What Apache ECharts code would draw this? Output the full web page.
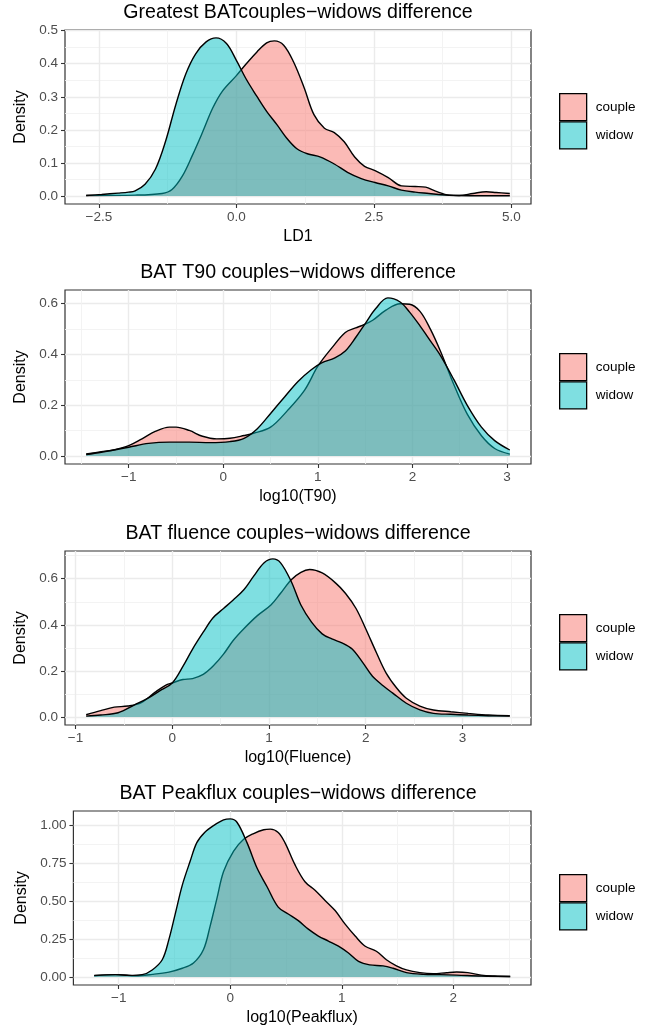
<!DOCTYPE html>
<html>
<head>
<meta charset="utf-8">
<script src="https://cdn.jsdelivr.net/npm/echarts@6/dist/echarts.min.js"></script>
<style>
html,body{margin:0;padding:0;background:#fff;}
#chart{width:663px;height:1027px;}
</style>
</head>
<body>
<div id="chart"></div>
<script>
// ---------- Panel titles & axis names ----------
const titles = [
  'Greatest BATcouples\u2212widows difference',
  'BAT T90 couples\u2212widows difference',
  'BAT fluence couples\u2212widows difference',
  'BAT Peakflux couples\u2212widows difference'
];
const xNames = ['LD1', 'log10(T90)', 'log10(Fluence)', 'log10(Peakflux)'];
const yName = 'Density';
const groups = ['couple', 'widow'];

// ---------- Tick values / labels ----------
const p1XTicks = [-2.5, 0, 2.5, 5];
const p1XLabels = ['\u22122.5', '0.0', '2.5', '5.0'];
const p1XMinor = [-1.25, 1.25, 3.75];
const p1YTicks = [0, 0.1, 0.2, 0.3, 0.4, 0.5];
const p1YLabels = ['0.0', '0.1', '0.2', '0.3', '0.4', '0.5'];
const p1YMinor = [0.05, 0.15, 0.25, 0.35, 0.45];

const p2XTicks = [-1, 0, 1, 2, 3];
const p2XLabels = ['\u22121', '0', '1', '2', '3'];
const p2XMinor = [-1.5, -0.5, 0.5, 1.5, 2.5];
const p2YTicks = [0, 0.2, 0.4, 0.6];
const p2YLabels = ['0.0', '0.2', '0.4', '0.6'];
const p2YMinor = [0.1, 0.3, 0.5];

const p3XTicks = [-1, 0, 1, 2, 3];
const p3XLabels = ['\u22121', '0', '1', '2', '3'];
const p3XMinor = [-0.5, 0.5, 1.5, 2.5, 3.5];
const p3YTicks = [0, 0.2, 0.4, 0.6];
const p3YLabels = ['0.0', '0.2', '0.4', '0.6'];
const p3YMinor = [0.1, 0.3, 0.5, 0.7];

const p4XTicks = [-1, 0, 1, 2];
const p4XLabels = ['\u22121', '0', '1', '2'];
const p4XMinor = [-0.5, 0.5, 1.5, 2.5];
const p4YTicks = [0, 0.25, 0.5, 0.75, 1.0];
const p4YLabels = ['0.00', '0.25', '0.50', '0.75', '1.00'];
const p4YMinor = [0.125, 0.375, 0.625, 0.875];

// ---------- Density curves ----------
// Panel 1: LD1
const p1CoupleX = [-2.73,-1.84,-1.35,-1.17,-0.98,-0.80,-0.61,-0.43,-0.25,0,0.18,0.37,0.55,0.69,0.86,1.04,1.23,1.41,1.60,1.78,1.96,2.15,2.33,2.52,2.76,3.0,3.25,3.44,3.62,3.87,4.05,4.3,4.54,4.72,4.97];
const p1CoupleY = [0.002,0.003,0.008,0.02,0.061,0.123,0.195,0.266,0.318,0.364,0.40,0.435,0.463,0.469,0.456,0.405,0.328,0.246,0.205,0.192,0.164,0.118,0.09,0.077,0.056,0.031,0.029,0.027,0.015,0.003,0.002,0.008,0.013,0.011,0.008];
const p1WidowX = [-2.73,-2.45,-2.15,-1.96,-1.84,-1.66,-1.47,-1.29,-1.10,-0.92,-0.74,-0.55,-0.37,-0.18,0,0.18,0.37,0.55,0.74,0.92,1.10,1.29,1.53,1.78,2.02,2.27,2.52,2.76,3.0,3.25,3.5,3.74,3.99,4.5,4.97];
const p1WidowY = [0.002,0.005,0.009,0.012,0.016,0.036,0.082,0.164,0.277,0.369,0.43,0.466,0.478,0.461,0.41,0.353,0.302,0.256,0.215,0.174,0.143,0.128,0.118,0.097,0.072,0.053,0.041,0.031,0.018,0.012,0.008,0.004,0.002,0.001,0.001];

// Panel 2: log10(T90)
const p2CoupleX = [-1.45,-1.29,-1.15,-1.0,-0.86,-0.72,-0.57,-0.50,-0.36,-0.22,-0.07,0.07,0.22,0.32,0.50,0.68,0.86,1.0,1.15,1.29,1.40,1.47,1.58,1.72,1.87,1.97,2.08,2.19,2.30,2.44,2.58,2.73,2.87,3.03];
const p2CoupleY = [0.008,0.017,0.025,0.041,0.068,0.097,0.114,0.114,0.101,0.078,0.068,0.07,0.081,0.09,0.114,0.18,0.26,0.354,0.427,0.487,0.505,0.515,0.535,0.575,0.60,0.598,0.57,0.50,0.41,0.28,0.165,0.08,0.03,0.008];
const p2WidowX = [-1.45,-1.29,-1.0,-0.79,-0.57,-0.36,-0.14,0.07,0.22,0.36,0.50,0.65,0.79,0.93,1.04,1.18,1.29,1.40,1.51,1.61,1.74,1.87,1.97,2.08,2.19,2.30,2.44,2.58,2.73,2.87,3.03];
const p2WidowY = [0.006,0.015,0.035,0.05,0.055,0.055,0.053,0.057,0.07,0.108,0.168,0.234,0.294,0.34,0.367,0.387,0.414,0.467,0.527,0.58,0.623,0.607,0.567,0.513,0.454,0.394,0.30,0.20,0.114,0.061,0.024];

// Panel 3: log10(Fluence)
const p3CoupleX = [-0.89,-0.74,-0.60,-0.46,-0.32,-0.18,-0.07,0,0.11,0.21,0.32,0.42,0.53,0.63,0.74,0.88,1.02,1.12,1.23,1.33,1.42,1.55,1.69,1.79,1.90,2.0,2.11,2.21,2.32,2.42,2.56,2.70,2.88,3.06,3.27,3.49];
const p3CoupleY = [0.01,0.028,0.043,0.048,0.063,0.107,0.138,0.148,0.163,0.167,0.185,0.22,0.273,0.332,0.383,0.44,0.486,0.537,0.596,0.628,0.64,0.625,0.581,0.537,0.471,0.383,0.28,0.192,0.126,0.082,0.048,0.031,0.023,0.016,0.009,0.006];
const p3WidowX = [-0.89,-0.74,-0.56,-0.39,-0.25,-0.11,0,0.11,0.21,0.32,0.42,0.53,0.63,0.74,0.84,0.95,1.04,1.12,1.23,1.33,1.44,1.55,1.65,1.76,1.86,1.97,2.07,2.18,2.28,2.42,2.56,2.70,2.88,3.06,3.27,3.49];
const p3WidowY = [0.004,0.009,0.019,0.053,0.082,0.119,0.148,0.22,0.295,0.368,0.43,0.471,0.508,0.552,0.61,0.669,0.686,0.669,0.588,0.486,0.412,0.361,0.339,0.321,0.295,0.236,0.177,0.136,0.104,0.06,0.031,0.016,0.012,0.009,0.006,0.004];

// Panel 4: log10(Peakflux)
const p4CoupleX = [-1.22,-1.0,-0.85,-0.70,-0.55,-0.43,-0.33,-0.24,-0.18,-0.12,-0.06,0.03,0.12,0.21,0.30,0.36,0.43,0.49,0.58,0.67,0.76,0.85,0.94,1.03,1.12,1.21,1.31,1.40,1.49,1.58,1.70,1.82,1.94,2.03,2.13,2.25,2.37,2.51];
const p4CoupleY = [0.009,0.016,0.009,0.018,0.033,0.058,0.092,0.181,0.337,0.516,0.694,0.828,0.906,0.944,0.969,0.973,0.951,0.884,0.739,0.627,0.571,0.504,0.4375,0.348,0.27,0.203,0.17,0.114,0.074,0.047,0.029,0.022,0.029,0.033,0.029,0.013,0.007,0.004];
const p4WidowX = [-1.22,-1.03,-0.91,-0.79,-0.70,-0.61,-0.55,-0.49,-0.43,-0.36,-0.30,-0.23,-0.15,-0.06,0,0.06,0.15,0.24,0.33,0.43,0.52,0.61,0.70,0.79,0.88,0.97,1.06,1.15,1.25,1.37,1.46,1.58,1.73,1.88,2.03,2.25,2.51];
const p4WidowY = [0.011,0.016,0.011,0.016,0.047,0.114,0.248,0.426,0.605,0.761,0.884,0.951,0.996,1.033,1.04,1.018,0.884,0.717,0.594,0.46,0.415,0.371,0.315,0.27,0.237,0.203,0.158,0.103,0.08,0.074,0.058,0.029,0.018,0.016,0.013,0.007,0.004];

// ---------- Build ----------
const FONT = "'Liberation Sans', Arial, Helvetica, sans-serif";
const FILL = { couple: 'rgba(248,118,109,0.5)', widow: 'rgba(0,191,196,0.5)' };

const panels = [
  { xT: p1XTicks, xL: p1XLabels, xM: p1XMinor, yT: p1YTicks, yL: p1YLabels, yM: p1YMinor,
    c: [p1CoupleX, p1CoupleY], w: [p1WidowX, p1WidowY] },
  { xT: p2XTicks, xL: p2XLabels, xM: p2XMinor, yT: p2YTicks, yL: p2YLabels, yM: p2YMinor,
    c: [p2CoupleX, p2CoupleY], w: [p2WidowX, p2WidowY] },
  { xT: p3XTicks, xL: p3XLabels, xM: p3XMinor, yT: p3YTicks, yL: p3YLabels, yM: p3YMinor,
    c: [p3CoupleX, p3CoupleY], w: [p3WidowX, p3WidowY] },
  { xT: p4XTicks, xL: p4XLabels, xM: p4XMinor, yT: p4YTicks, yL: p4YLabels, yM: p4YMinor,
    c: [p4CoupleX, p4CoupleY], w: [p4WidowX, p4WidowY] }
];

// layout (pixels)
const panelTop = [30, 290, 551, 811];
const panelLeft = [65, 65, 65, 73.4];
const panelRight = 531;
const panelH = 174;
const titleCenterX = 298;

function zip(xs, ys) { return xs.map((x, i) => [x, ys[i]]); }
function lookup(ticks, labels) {
  return function (v) {
    const i = ticks.findIndex(t => Math.abs(t - v) < 1e-9);
    return i >= 0 ? labels[i] : '';
  };
}

const option = {
  animation: false,
  backgroundColor: '#ffffff',
  textStyle: { fontFamily: FONT },
  title: [], grid: [], xAxis: [], yAxis: [], series: [], legend: []
};

panels.forEach((p, i) => {
  const allX = p.c[0].concat(p.w[0]);
  const allY = p.c[1].concat(p.w[1]);
  const xmin = Math.min(...allX), xmax = Math.max(...allX);
  const xpad = 0.05 * (xmax - xmin);
  const ymax = Math.max(...allY);
  const ypad = 0.05 * ymax;
  const xr = [xmin - xpad, xmax + xpad];
  const yr = [-ypad, ymax + ypad];

  option.title.push({
    text: titles[i],
    left: titleCenterX,
    top: panelTop[i] - 27,
    textAlign: 'center',
    padding: 0,
    textStyle: { fontFamily: FONT, fontSize: 19.6, fontWeight: 'normal', color: '#000', lineHeight: 20 }
  });

  option.grid.push({
    left: panelLeft[i], top: panelTop[i],
    width: panelRight - panelLeft[i], height: panelH,
    show: true, backgroundColor: '#fff', borderColor: '#333333', borderWidth: 1.2,
    containLabel: false, outerBoundsMode: 'none'
  });

  // minor grid axes
  option.xAxis.push({
    type: 'value', gridIndex: i, min: xr[0], max: xr[1], position: 'bottom',
    axisLine: { show: false, onZero: false }, axisLabel: { show: false },
    axisTick: { show: false, customValues: p.xM },
    splitLine: { show: true, lineStyle: { color: '#F2F2F2', width: 0.9 } }
  });
  option.yAxis.push({
    type: 'value', gridIndex: i, min: yr[0], max: yr[1], position: 'left',
    axisLine: { show: false, onZero: false }, axisLabel: { show: false },
    axisTick: { show: false, customValues: p.yM },
    splitLine: { show: true, lineStyle: { color: '#F2F2F2', width: 0.9 } }
  });
  // major axes
  option.xAxis.push({
    type: 'value', gridIndex: i, min: xr[0], max: xr[1], position: 'bottom',
    name: xNames[i], nameLocation: 'middle', nameGap: 25,
    nameTextStyle: { fontFamily: FONT, fontSize: 16, color: '#000' },
    axisLine: { show: false, onZero: false },
    axisTick: { show: true, length: 4, lineStyle: { color: '#333333', width: 1.1 }, customValues: p.xT },
    axisLabel: { customValues: p.xT, formatter: lookup(p.xT, p.xL), margin: 6,
      color: '#4D4D4D', fontSize: 13.5, fontFamily: FONT },
    splitLine: { show: true, lineStyle: { color: '#EBEBEB', width: 1.4 } }
  });
  option.yAxis.push({
    type: 'value', gridIndex: i, min: yr[0], max: yr[1], position: 'left',
    name: yName, nameLocation: 'middle', nameGap: panelLeft[i] - 34,
    nameTextStyle: { fontFamily: FONT, fontSize: 16, color: '#000' },
    axisLine: { show: false, onZero: false },
    axisTick: { show: true, length: 4, lineStyle: { color: '#333333', width: 1.1 }, customValues: p.yT },
    axisLabel: { customValues: p.yT, formatter: lookup(p.yT, p.yL), margin: 7,
      color: '#4D4D4D', fontSize: 13.5, fontFamily: FONT },
    splitLine: { show: true, lineStyle: { color: '#EBEBEB', width: 1.4 } }
  });

  const xi = 2 * i + 1, yi = 2 * i + 1;
  const sets = [['couple', p.c], ['widow', p.w]];
  sets.forEach(([g, d], k) => {
    const data = zip(d[0], d[1]);
    option.series.push({
      name: g, type: 'line', xAxisIndex: xi, yAxisIndex: yi, data: data,
      smooth: 0.35, symbol: 'none', showSymbol: false, silent: true,
      lineStyle: { width: 0, opacity: 0 },
      areaStyle: { color: FILL[g], opacity: 1, origin: 0 },
      z: 2 + 2 * k
    });
    option.series.push({
      name: g, type: 'line', xAxisIndex: xi, yAxisIndex: yi, data: data,
      smooth: 0.35, symbol: 'none', showSymbol: false, silent: true,
      lineStyle: { color: '#000', width: 1.4 },
      z: 3 + 2 * k
    });
  });

  option.legend.push({
    orient: 'vertical', left: 559, top: panelTop[i] + 63,
    itemWidth: 27, itemHeight: 27, itemGap: 0, padding: 0,
    selectedMode: false,
    textStyle: { fontFamily: FONT, fontSize: 13.5, color: '#000', padding: [0, 0, 0, 4] },
    data: groups.map(g => ({
      name: g, icon: 'rect',
      itemStyle: { color: FILL[g], opacity: 1, borderColor: '#000', borderWidth: 1.3 }
    }))
  });
});

const chart = echarts.init(document.getElementById('chart'), null, { renderer: 'canvas', width: 663, height: 1027 });
chart.setOption(option);
</script>
</body>
</html>
